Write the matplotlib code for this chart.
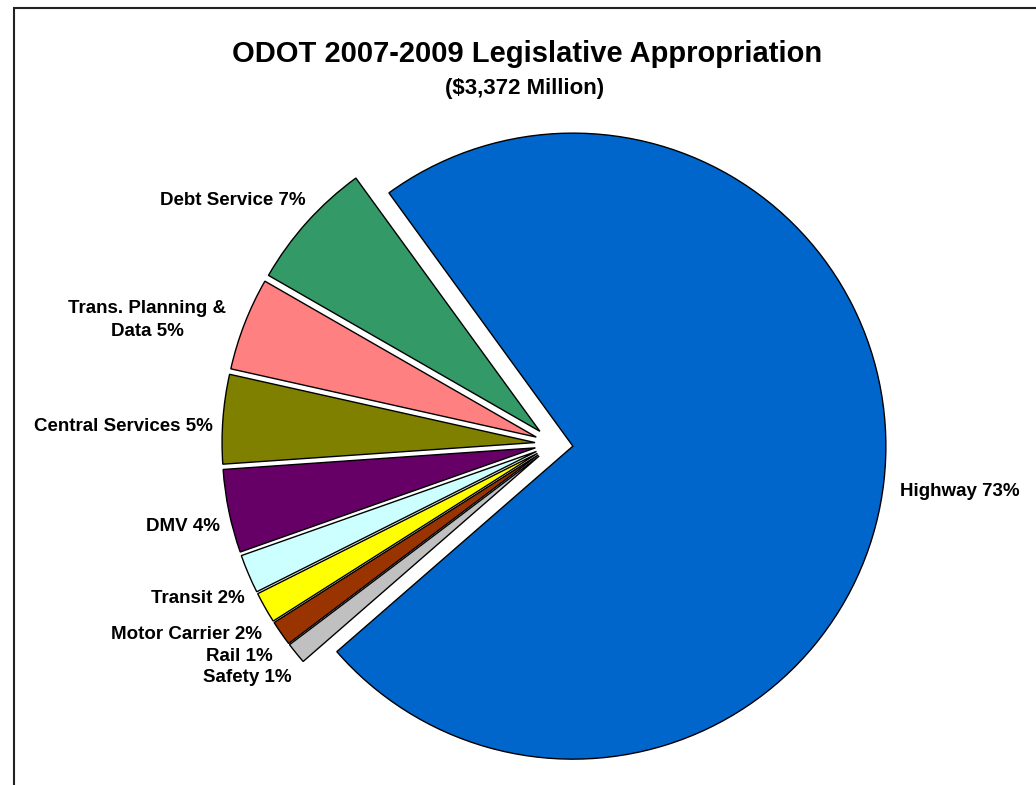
import matplotlib
matplotlib.use("Agg")
import matplotlib.pyplot as plt
from matplotlib.patches import Rectangle

plt.rcParams["font.family"] = ["Liberation Sans", "DejaVu Sans"]

TITLE = "ODOT 2007-2009 Legislative Appropriation"
SUBTITLE = "($3,372 Million)"

# share of appropriation, percent
categories = ["Debt Service", "Trans. Planning &\nData", "Central Services", "DMV",
              "Transit", "Motor Carrier", "Rail", "Safety", "Highway"]
shares = [6.7, 4.8, 4.6, 4.3, 2.0, 1.6, 1.3, 1.1, 73.6]
pct_labels = ["7%", "5%", "5%", "4%", "2%", "2%", "1%", "1%", "73%"]
colors = ["#339966", "#FF8080", "#808000", "#660066", "#CCFFFF",
          "#FFFF00", "#993300", "#C0C0C0", "#0066CC"]

W, H = 1036, 785
fig = plt.figure(figsize=(W / 100, H / 100), dpi=100)
ax = fig.add_axes([0, 0, 1, 1])

# work in pixel units: y measured upward from the bottom
radius = 313
center = (554, H - 444)
ax.pie(shares, colors=colors, startangle=126, counterclock=True,
       radius=radius, center=center, explode=[19] * len(shares),
       wedgeprops=dict(edgecolor="black", linewidth=1.0), frame=True)
ax.set_xlim(0, W)
ax.set_ylim(0, H)
ax.set_aspect("equal")
ax.axis("off")

# label anchors (pixel x, pixel y from top) and alignment
label_pos = [(306, 205, "right", "baseline"), (147, 320, "center", "center"),
             (213, 431, "right", "baseline"), (220, 531, "right", "baseline"),
             (245, 603, "right", "baseline"), (262, 639, "right", "baseline"),
             (273, 661, "right", "baseline"), (292, 682, "right", "baseline"),
             (900, 496, "left", "baseline")]
for cat, pct, (x, y, ha, va) in zip(categories, pct_labels, label_pos):
    ax.text(x, H - y, f"{cat} {pct}", ha=ha, va=va, fontsize=13.5,
            fontweight="bold", linespacing=1.45, multialignment="center")

ax.text(527, H - 62, TITLE, ha="center", va="baseline", fontsize=21, fontweight="bold")
ax.text(525, H - 94, SUBTITLE, ha="center", va="baseline", fontsize=16, fontweight="bold")

ax.add_patch(Rectangle((14, -20), W + 40, H - 7.5 + 20, fill=False,
                       edgecolor="#222222", linewidth=1.5, clip_on=False))

fig.savefig("out.png", dpi=100)
